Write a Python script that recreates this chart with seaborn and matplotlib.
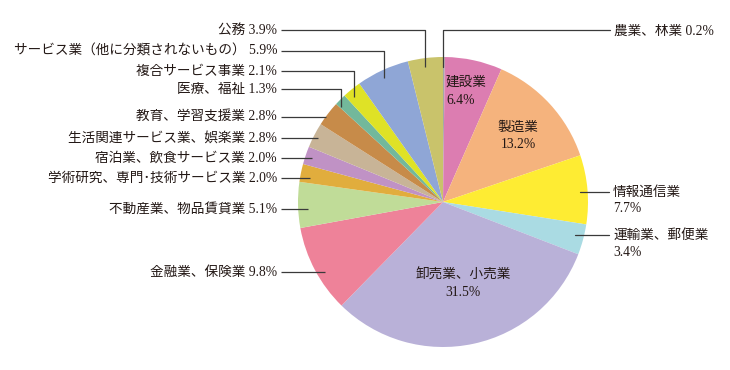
import numpy as np
import matplotlib
matplotlib.use("Agg")
import matplotlib.pyplot as plt
import seaborn as sns

# industry shares, clockwise from 12 o'clock
industries = [
    "農業、林業", "建設業", "製造業", "情報通信業", "運輸業、郵便業",
    "卸売業、小売業", "金融業、保険業", "不動産業、物品賃貸業",
    "学術研究、専門･技術サービス業", "宿泊業、飲食サービス業",
    "生活関連サービス業、娯楽業", "教育、学習支援業", "医療、福祉",
    "複合サービス事業", "サービス業（他に分類されないもの）", "公務",
]
shares = [0.2, 6.4, 13.2, 7.7, 3.4, 31.5, 9.8, 5.1, 2.0, 2.0, 2.8, 2.8, 1.3, 2.1, 5.9, 3.9]
colors = [
    "#a3a9a6", "#dc7db1", "#f5b37d", "#feec33", "#aadbe3",
    "#b9b1d8", "#ee8299", "#c0dc98", "#e1ad3d", "#c092c5",
    "#c8b497", "#c78b49", "#73b89b", "#dfe226", "#8fa6d6", "#c9c36b",
]

sns.set_theme(style="white")
plt.rcParams["font.family"] = ["Liberation Serif", "Noto Sans CJK JP", "DejaVu Sans"]

W, H = 730, 370
fig = plt.figure(figsize=(W / 100, H / 100), dpi=100)
ax = fig.add_axes([0, 0, 1, 1])

cx, cy, r = 443, H - 202, 145
ax.pie(shares, colors=colors, startangle=90, counterclock=False,
       center=(cx, cy), radius=r, frame=True,
       wedgeprops=dict(linewidth=0))
ax.set_xlim(0, W)
ax.set_ylim(0, H)
ax.set_aspect("equal")
ax.axis("off")

txt = "#231815"
ln = "#3a3a3a"
fs = 9.8

def Y(p):
    return H - p

def lbl(i):
    return f"{industries[i]} {shares[i]}%"

# left side labels: (index, text y, line end x, elbow end y or None)
left = [
    (15, 30, 425, 67),
    (14, 51, 384, 78),
    (13, 71, 354, 97),
    (12, 89, 341, 107),
    (11, 117, 326, None),
    (10, 138, 318, None),
    (9, 158, 312, None),
    (8, 178, 310, None),
    (7, 209, 308, None),
    (6, 272, 325, None),
]
for i, ty, x1, ey in left:
    ax.text(277, Y(ty), lbl(i), ha="right", va="center", fontsize=fs, color=txt)
    xs, ys = [281, x1], [Y(ty), Y(ty)]
    if ey is not None:
        xs.append(x1)
        ys.append(Y(ey))
    ax.plot(xs, ys, color=ln, lw=0.9, solid_capstyle="butt")

# 農業、林業
ax.plot([443, 443, 610], [Y(67), Y(30), Y(30)], color=ln, lw=0.9)
ax.text(614, Y(31), lbl(0), ha="left", va="center", fontsize=fs, color=txt)

# right side two-line labels
for i, ty, x0 in [(3, 192, 580), (4, 235, 575)]:
    ax.plot([x0, 609], [Y(ty), Y(ty)], color=ln, lw=0.9)
    ax.text(613, Y(ty), industries[i], ha="left", va="center", fontsize=fs, color=txt)
    ax.text(613, Y(ty + 17), f"{shares[i]}%", ha="left", va="center", fontsize=fs, color=txt)

# labels inside wedges
ax.text(446, Y(82), industries[1], ha="left", va="center", fontsize=fs, color=txt)
ax.text(446, Y(100), f"{shares[1]}%", ha="left", va="center", fontsize=fs, color=txt)
ax.text(518, Y(127), industries[2], ha="center", va="center", fontsize=fs, color=txt)
ax.text(518, Y(144), f"{shares[2]}%", ha="center", va="center", fontsize=fs, color=txt)
ax.text(463, Y(275), industries[5], ha="center", va="center", fontsize=fs, color=txt)
ax.text(463, Y(293), f"{shares[5]}%", ha="center", va="center", fontsize=fs, color=txt)

fig.savefig("out.png", dpi=100, facecolor="white")
